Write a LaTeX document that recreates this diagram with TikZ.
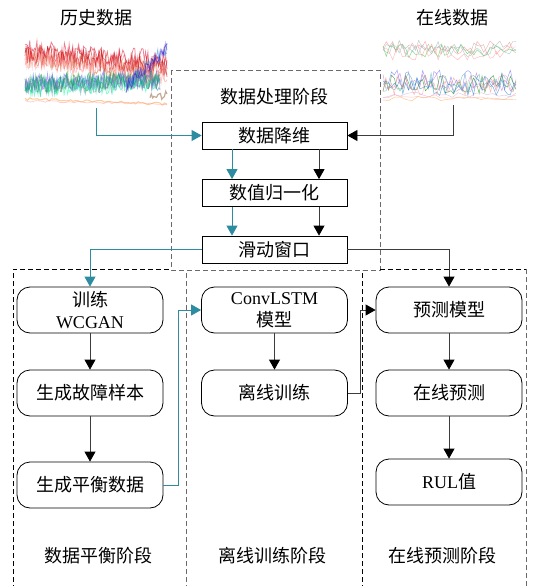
\documentclass[tikz,border=0pt]{standalone}
\usepackage{fontspec}
\setmainfont{Liberation Serif}
\newfontfamily\cjk{Noto Sans CJK SC}
\usetikzlibrary{arrows.meta}

\definecolor{tealline}{RGB}{45,140,160}
\definecolor{darkline}{RGB}{60,60,60}
\definecolor{framegray}{RGB}{105,105,105}

\begin{document}
\begin{tikzpicture}[x=1pt,y=-1pt,
  every node/.style={font=\fontsize{18}{22}\selectfont, inner sep=0pt},
  sqbox/.style={draw, line width=0.8pt, minimum width=145pt, minimum height=27pt},
  rbox/.style={draw, line width=0.8pt, rounded corners=13pt, minimum width=146pt,
               minimum height=46pt, align=center},
  imgarea/.style={minimum width=142pt, minimum height=72pt},
  flow/.style={darkline, line width=0.8pt, -{Triangle[length=10pt,width=11pt,color=black]}},
  tflow/.style={tealline, line width=0.8pt, -{Triangle[length=10pt,width=11pt]}},
  bframe/.style={black, line width=0.7pt, dash pattern=on 5pt off 3pt},
  gframe/.style={framegray, line width=0.9pt, dash pattern=on 5pt off 3pt},
  trace/.style={line width=0.75pt, opacity=0.5},
]
\useasboundingbox (0,0) rectangle (534,586);

% ---- stage frames ----
\draw[gframe] (171,70) rectangle (380,270);
\draw[bframe] (13,590) -- (13,269) -- (171,269);
\draw[gframe] (186,590) -- (186,271);
\draw[bframe] (362,590) -- (362,270);
\draw[bframe] (380,269) -- (526,269);
\draw[gframe] (526,269) -- (526,590);

% ---- input data sources ----
\node (histT) at (96,18) {\cjk 历史数据};
\node (onlT) at (452,18) {\cjk 在线数据};
\node[imgarea] (hist) at (96,72) {};
\node[imgarea, minimum width=140pt, minimum height=70pt] (onl) at (453,70) {};

% historical signals: two dense noisy bands drifting together
\pgfmathsetseed{11}
\foreach \c/\b/\s in {red!75!black/52/14, red!60/56/12, brown!80!red/58/15,
                      purple!60!red/50/10, red!45/60/15, red!80!black/54/13,
                      pink!80!red/57/16} {
  \draw[trace, \c] plot[domain=25:167, samples=120]
    (\x, {\b + \s*(\x-25)/142 + 10*rand});
}
\foreach \c/\b/\s in {green!55!black/84/-4, teal!80/87/-6, blue!65/82/-3,
                      violet!60/86/-5, green!40!cyan/89/-7, blue!40!green/84/-5,
                      cyan!70!black/86/-4} {
  \draw[trace, \c] plot[domain=25:160, samples=115]
    (\x, {\b + \s*(\x-25)/142 + 9*rand});
}
\foreach \c in {blue!70, violet!60, cyan!60!blue, blue!50!violet} {
  \draw[trace, \c] plot[domain=126:167, samples=32]
    (\x, {86 - 38*(\x-126)/41 + 7*rand});
}
\draw[trace, brown!70!black, line width=1.2pt] plot[domain=150:167, samples=14] (\x, {95 + 5*rand});
\draw[trace, orange!80, line width=1pt] plot[domain=25:167, samples=60]
  (\x, {99 + 5*(\x-25)/142 + 1.3*rand});
\draw[trace, red!40] plot[domain=25:167, samples=50]
  (\x, {101 + 3*(\x-25)/142 + 1*rand});

% online signals: thinner, sparser traces
\pgfmathsetseed{5}
\foreach \c/\b in {red!50/48, green!50!gray/51, gray!70/47, pink!80!red/53, teal!50/50} {
  \draw[line width=0.45pt, opacity=0.65, \c] plot[domain=383:516, samples=42]
    (\x, {\b + 7*rand});
}
\foreach \c/\b in {blue!60/80, violet!55/83, green!50!black/84, teal!70/82,
                   cyan!60!blue/86, red!45/85} {
  \draw[line width=0.45pt, opacity=0.65, \c] plot[domain=383:516, samples=48]
    (\x, {\b + 10*rand});
}
\foreach \c/\b in {orange!70/99, red!35/97, violet!35/95} {
  \draw[line width=0.45pt, opacity=0.65, \c] plot[domain=383:516, samples=24]
    (\x, {\b + 2.5*rand});
}

% ---- data processing stage ----
\node (procT) at (274,97) {\cjk 数据处理阶段};
\node[sqbox] (dr) at (274.5,135.5) {\cjk 数据降维};
\node[sqbox] (nm) at (274.5,193) {\cjk 数值归一化};
\node[sqbox] (sw) at (274.5,249.5) {\cjk 滑动窗口};

% ---- data balancing stage ----
\node[rbox] (wg) at (90,310) {{\cjk 训练}\\WCGAN};
\node[rbox] (fs) at (90,393) {\cjk 生成故障样本};
\node[rbox] (bd) at (90,485) {\cjk 生成平衡数据};
\node (balT) at (98,556) {\cjk 数据平衡阶段};

% ---- offline training stage ----
\node[rbox] (cl) at (274.5,310) {ConvLSTM\\{\cjk 模型}};
\node[rbox] (ot) at (274.5,393) {\cjk 离线训练};
\node (offT) at (272,556) {\cjk 离线训练阶段};

% ---- online prediction stage ----
\node[rbox] (pm) at (449,310) {\cjk 预测模型};
\node[rbox] (op) at (449,393) {\cjk 在线预测};
\node[rbox] (rul) at (449,482) {RUL{\cjk 值}};
\node (onlStage) at (442,556) {\cjk 在线预测阶段};

% ---- connectors ----
\draw[tflow] (hist.south) |- (dr.west);
\draw[flow] (onl.south) |- (dr.east);
\draw[tflow] ([xshift=-42.5pt]dr.south) -- ([xshift=-42.5pt]nm.north);
\draw[flow] ([xshift=44.5pt]dr.south) -- ([xshift=44.5pt]nm.north);
\draw[tflow] ([xshift=-42.5pt]nm.south) -- ([xshift=-42.5pt]sw.north);
\draw[flow] ([xshift=44.5pt]nm.south) -- ([xshift=44.5pt]sw.north);
\draw[tflow] (sw.west) -| (wg.north);
\draw[flow] (sw.east) -| (pm.north);

\draw[flow] (wg) -- (fs);
\draw[flow] (fs) -- (bd);
\draw[tflow] (bd.east) -- ++(15,0) |- (cl.west);

\draw[flow] (cl) -- (ot);
\draw[flow] (ot.east) -- ++(12,0) |- (pm.west);

\draw[flow] (pm) -- (op);
\draw[flow] (op) -- (rul);
\end{tikzpicture}
\end{document}
